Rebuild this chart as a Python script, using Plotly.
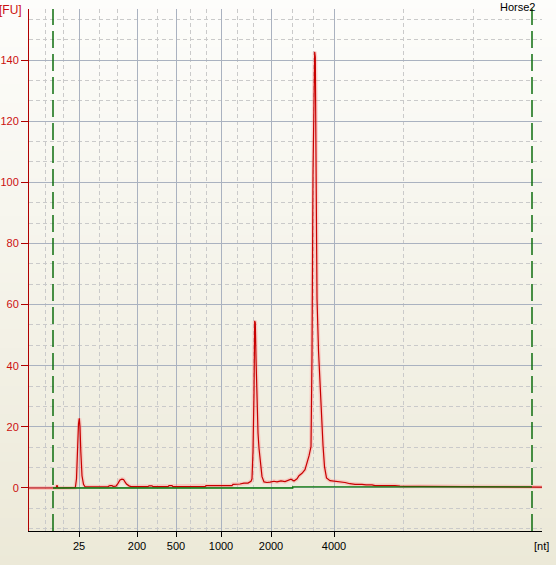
import plotly.graph_objects as go

# ---------------- data ----------------
sample_name = "Horse2"

# migration time axis (s) and fluorescence (FU) of the sample trace
time_s = [19.0, 21.3, 21.7, 21.8, 21.9, 23.6, 23.65, 23.75, 23.85, 23.95, 24.03, 24.1,
          24.18, 24.3, 24.45, 24.6, 25.6, 26.1, 26.9, 27.1, 27.3, 27.4, 27.7, 27.9, 28.1,
          28.3, 28.45, 28.6, 28.75, 29.0, 29.2, 30.9, 31.0, 31.3, 31.4, 32.9, 33.0, 33.3,
          33.4, 36.6, 36.7, 39.3, 39.4, 40.1, 40.5, 40.9, 41.2, 41.3, 41.4, 41.5, 41.57,
          41.63, 41.7, 41.8, 41.9, 42.0, 42.1, 42.2, 42.3, 42.5, 42.8, 43.1, 43.5, 43.8,
          44.2, 44.6, 44.9, 45.2, 45.5, 45.8, 46.0, 46.3, 46.6, 46.8, 47.0, 47.2, 47.3,
          47.4, 47.5, 47.57, 47.63, 47.7, 47.8, 47.95, 48.1, 48.25, 48.4, 48.55, 48.75,
          49.1, 50.1, 50.6, 51.1, 51.6, 52.3, 52.7, 53.3, 53.6, 54.6, 55.1, 55.6, 56.1,
          56.6, 58.1, 60.1, 62.1, 63.9, 64.1, 66.1, 69.1, 70.3]
fu = [0.0, 0.0, 0.0, 0.9, 0.0, 0.1, 0.5, 3.0, 14.0, 21.0, 22.8, 20.0,
      12.0, 4.0, 1.2, 0.4, 0.4, 0.45, 0.45, 0.8, 0.8, 0.5, 0.6, 1.5, 2.6,
      2.9, 2.8, 2.0, 1.3, 0.7, 0.45, 0.45, 0.7, 0.7, 0.45, 0.45, 0.75, 0.75,
      0.45, 0.45, 0.75, 0.8, 1.2, 1.3, 1.6, 1.6, 2.2, 3.0, 12.0, 31.0, 54.7,
      54.0, 42.5, 26.6, 18.0, 13.0, 10.0, 6.0, 3.7, 2.0, 1.8, 1.9, 2.2, 2.0,
      2.3, 2.1, 2.5, 2.9, 2.3, 3.0, 4.0, 4.8, 6.0, 8.0, 10.5, 13.5, 43.5,
      103.0, 131.0, 142.7, 141.0, 117.0, 62.0, 45.0, 33.0, 23.0, 14.0, 7.0, 3.3,
      2.4, 2.1, 1.8, 1.4, 1.2, 1.2, 1.0, 1.0, 0.8, 0.8, 0.9, 0.8, 0.6,
      0.5, 0.55, 0.5, 0.55, 0.5, 0.3, 0.3, 0.3, 0.3]

# baseline (green) between lower and upper marker
baseline_time = [21.4, 45.37, 69.3]
baseline_fu = [0.0, 0.35, 0.35]

# lower / upper marker positions (s)
marker_times = [21.4, 69.3]

# size ladder: migration time (s) -> label (nt)
ladder_times = [24.0, 29.8, 33.7, 38.2, 43.2, 49.5]
ladder_labels = ["25", "200", "500", "1000", "2000", "4000"]
minor_times = [20.6, 22.4, 26.0, 27.8, 31.8, 35.1, 36.7, 39.8, 41.4, 45.3, 47.4, 56.4, 63.4]

fu_ticks = [0, 20, 40, 60, 80, 100, 120, 140]
x_range = [19.0, 70.3]
y_range = [-14.07, 156.7]

# ---------------- figure ----------------
RED = "#C80000"
FONT = "Liberation Sans, Arial, sans-serif"

fig = go.Figure()

# soft glow under the sample trace
fig.add_trace(go.Scatter(x=time_s, y=fu, mode="lines",
                         line=dict(color="rgba(255,140,140,0.35)", width=4),
                         hoverinfo="skip", showlegend=False))
fig.add_trace(go.Scatter(x=time_s, y=fu, mode="lines",
                         line=dict(color=RED, width=1.2),
                         showlegend=False))
fig.add_trace(go.Scatter(x=baseline_time, y=baseline_fu, mode="lines",
                         line=dict(color="#087A08", width=1.4, shape="hv"),
                         showlegend=False))

# background gradient (whole canvas)
shapes = []
n_bands = 60
y_top, y_bot = 1.0175, -0.066
c_top = (253, 253, 251)
c_bot = (236, 233, 216)
for i in range(n_bands):
    f = (i + 0.5) / n_bands
    col = tuple(round(c_top[k] + (c_bot[k] - c_top[k]) * f) for k in range(3))
    ya = y_top + (y_bot - y_top) * i / n_bands
    yb = y_top + (y_bot - y_top) * (i + 1) / n_bands
    shapes.append(dict(type="rect", xref="paper", yref="paper",
                       x0=-0.06, x1=1.03, y0=yb - 0.001, y1=ya + 0.001,
                       fillcolor="rgb(%d,%d,%d)" % col, line=dict(width=0),
                       layer="below"))

# marker lines
for m in marker_times:
    shapes.append(dict(type="line", xref="x", yref="paper", x0=m, x1=m, y0=0, y1=1,
                       line=dict(color="#0E6E0E", width=1.5, dash="17px,6px"),
                       layer="above"))

fig.update_layout(
    template="none",
    width=556, height=565, autosize=False,
    margin=dict(l=29, r=14, t=9, b=34, pad=0, autoexpand=False),
    paper_bgcolor="#ECE9D8",
    plot_bgcolor="rgba(0,0,0,0)",
    shapes=shapes,
    showlegend=False,
    font=dict(family=FONT, size=11, color="black"),
    xaxis=dict(
        range=x_range, tickmode="array", tickvals=ladder_times, ticktext=ladder_labels,
        automargin=False,
        showgrid=True, gridcolor="#AAB2C0", gridwidth=1,
        showline=True, linecolor="black", linewidth=1,
        ticks="outside", ticklen=5, tickcolor="black", tickwidth=1,
        tickfont=dict(family=FONT, size=11, color="black"),
        zeroline=False,
        minor=dict(tickmode="array", tickvals=minor_times, showgrid=True,
                   gridcolor="#CACACA", griddash="4px,3px", gridwidth=1, ticks=""),
    ),
    yaxis=dict(
        range=y_range, tickmode="array", tickvals=fu_ticks,
        automargin=False,
        showgrid=True, gridcolor="#AAB2C0", gridwidth=1,
        showline=True, linecolor="#B00000", linewidth=1,
        ticks="outside", ticklen=7, tickcolor="#B00000", tickwidth=1,
        tickfont=dict(family=FONT, size=11, color="#CC1010"),
        zeroline=False,
        minor=dict(dtick=20 / 3, tick0=0, showgrid=True,
                   gridcolor="#CACACA", griddash="4px,3px", gridwidth=1, ticks=""),
    ),
    annotations=[
        dict(text="[FU]", xref="paper", yref="paper", x=-0.037, y=0.998,
             xanchor="center", yanchor="middle", showarrow=False,
             font=dict(family=FONT, size=12, color="#CC1010")),
        dict(text="[nt]", xref="paper", yref="paper", x=0.999, y=-0.0287,
             xanchor="center", yanchor="middle", showarrow=False,
             font=dict(family=FONT, size=11, color="black")),
        dict(text=sample_name, xref="paper", yref="paper", x=0.99, y=1.004,
             xanchor="right", yanchor="middle", showarrow=False,
             font=dict(family=FONT, size=11, color="black")),
    ],
)

fig.write_html("out.html",
               config={"displayModeBar": False},
               post_script="document.body.style.margin='0';document.body.style.background='#ECE9D8';")
